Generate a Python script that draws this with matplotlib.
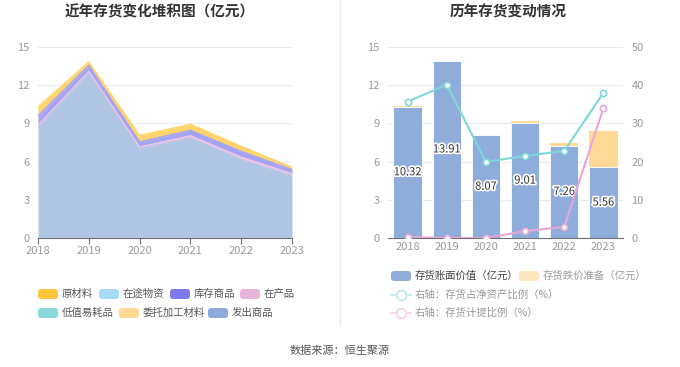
import numpy as np
import matplotlib.pyplot as plt
import matplotlib.patheffects as pe
from matplotlib.patches import FancyBboxPatch

plt.rcParams['font.family'] = ['Noto Sans CJK SC', 'DejaVu Sans']

# 数据
years = ["2018", "2019", "2020", "2021", "2022", "2023"]

# 左图：堆积面积（亿元）
fachu = [8.70, 12.95, 7.00, 7.85, 6.15, 4.85]      # 发出商品
weituo = [0, 0, 0, 0, 0, 0]                        # 委托加工材料
dizhi = [0, 0, 0, 0, 0, 0]                         # 低值易耗品
zaichan = [0.17, 0.13, 0.15, 0.18, 0.20, 0.20]     # 在产品
kucun = [0.73, 0.48, 0.40, 0.43, 0.45, 0.32]       # 库存商品
zaitu = [0, 0, 0, 0, 0, 0]                         # 在途物资
yuancai = [0.70, 0.27, 0.50, 0.47, 0.40, 0.18]     # 原材料

# 右图
book_value = [10.32, 13.91, 8.07, 9.01, 7.26, 5.56]
provision = [0.03, 0.0, 0.0, 0.17, 0.22, 2.87]
ratio_net = [35.7, 40.1, 19.9, 21.5, 22.8, 38.0]
ratio_prov = [0.26, 0.0, 0.0, 1.8, 2.9, 34.0]

W, H = 680, 367
fig = plt.figure(figsize=(6.8, 3.67), dpi=100)

def box(x0, y0, x1, y1):
    return [x0 / W, 1 - y1 / H, (x1 - x0) / W, (y1 - y0) / H]

grid_c = "#e8ebf5"
tick_c = "#999999"

# ---------- 左图 ----------
ax1 = fig.add_axes(box(38, 47, 292, 238))
x = np.arange(len(years))
layers = [fachu, weituo, dizhi, zaichan, kucun, zaitu, yuancai]
fills = ["#b0c4e4", "#ffdea6", "#a7e2e4", "#eec4e2", "#a3a3f7", "#bfe6fa", "#ffd46a"]
base = np.zeros(len(years))
for vals, c in zip(layers, fills):
    top = base + np.array(vals)
    if max(vals) > 0:
        ax1.fill_between(x, base, top, color=c, lw=0)
        ax1.plot(x, top, color=c, lw=1)
    base = top
ax1.set_xlim(0, 5)
ax1.set_ylim(0, 15)
ax1.set_yticks([0, 3, 6, 9, 12, 15])
ax1.set_xticks(x)
ax1.set_xticklabels(years)

# ---------- 右图 ----------
ax2 = fig.add_axes(box(388, 47, 623, 238))
ax2.bar(x, book_value, width=0.72, color="#8eaddb", edgecolor="white", lw=0.6, zorder=2)
ax2.bar(x, provision, width=0.72, bottom=book_value, color="#ffd995", lw=0, zorder=2)
for i, v in enumerate(book_value):
    ax2.text(i, v / 2, f"{v:.2f}", ha="center", va="center", fontsize=8, color="#333333",
             path_effects=[pe.withStroke(linewidth=2.5, foreground="white")], zorder=5)
ax2.set_xlim(-0.5, 5.5)
ax2.set_ylim(0, 15)
ax2.set_yticks([0, 3, 6, 9, 12, 15])
ax2.set_xticks(x)
ax2.set_xticklabels(years)

ax3 = ax2.twinx()
ax3.plot(x, ratio_net, color="#7fd6d9", lw=1.5, marker="o", ms=4.5,
         mfc="white", mec="#7fd6d9", mew=1.2, zorder=4)
ax3.plot(x, ratio_prov, color="#e8a6d4", lw=1.5, marker="o", ms=4.5,
         mfc="white", mec="#e8a6d4", mew=1.2, zorder=4)
ax3.set_ylim(0, 50)
ax3.set_yticks([0, 10, 20, 30, 40, 50])

for ax in (ax1, ax2, ax3):
    for s in ax.spines.values():
        s.set_visible(False)
    ax.tick_params(length=0, labelsize=8, labelcolor=tick_c, pad=6)
for ax in (ax1, ax2):
    ax.spines["bottom"].set_visible(True)
    ax.spines["bottom"].set_color("#6e7079")
    ax.tick_params(axis="x", length=4, color="#6e7079", pad=3)
    ax.grid(axis="y", color=grid_c, lw=0.8)
    ax.set_axisbelow(True)
ax1.tick_params(axis="x", pad=2)
ax2.tick_params(axis="x", length=0)

# ---------- 标题、图例等 ----------
ov = fig.add_axes([0, 0, 1, 1])
ov.set_xlim(0, W)
ov.set_ylim(H, 0)
ov.axis("off")

ov.text(160, 12, "近年存货变化堆积图（亿元）", ha="center", va="center", fontsize=10.5,
        fontweight="bold", color="#333333")
ov.text(508, 12, "历年存货变动情况", ha="center", va="center", fontsize=10.5,
        fontweight="bold", color="#333333")
ov.plot([340, 340], [0, 325], color="#eeeeee", lw=1)
ov.text(340, 351, "数据来源：恒生聚源", ha="center", va="center", fontsize=8, color="#555555")

def patch(px, py, c, label, tc="#555555"):
    ov.add_patch(FancyBboxPatch((px, py - 5), 20, 10, boxstyle="round,pad=0,rounding_size=3",
                                fc=c, ec="none"))
    ov.text(px + 24, py, label, ha="left", va="center", fontsize=7.5, color=tc)

left_items = [
    (38, 294, "#ffc53d", "原材料"),
    (99, 294, "#a6dcf7", "在途物资"),
    (170, 294, "#7b7bef", "库存商品"),
    (240, 294, "#e8b4d8", "在产品"),
    (38, 313, "#89d8da", "低值易耗品"),
    (119, 313, "#ffd894", "委托加工材料"),
    (208, 313, "#8eaadb", "发出商品"),
]
for px, py, c, lab in left_items:
    patch(px, py, c, lab)

patch(391, 276, "#8eaddb", "存货账面价值（亿元）", tc="#444444")
patch(519, 276, "#ffe5bb", "存货跌价准备（亿元）", tc="#999999")

def line_item(py, c, label):
    ov.plot([391, 411], [py, py], color=c, lw=1.2)
    ov.plot([401], [py], marker="o", ms=7, mfc="white", mec=c, mew=1.2)
    ov.text(415, py, label, ha="left", va="center", fontsize=7.5, color="#999999")

line_item(295, "#b9e9ea", "右轴：存货占净资产比例（%）")
line_item(313, "#f2cfe7", "右轴：存货计提比例（%）")

plt.savefig("out.png", dpi=100)
